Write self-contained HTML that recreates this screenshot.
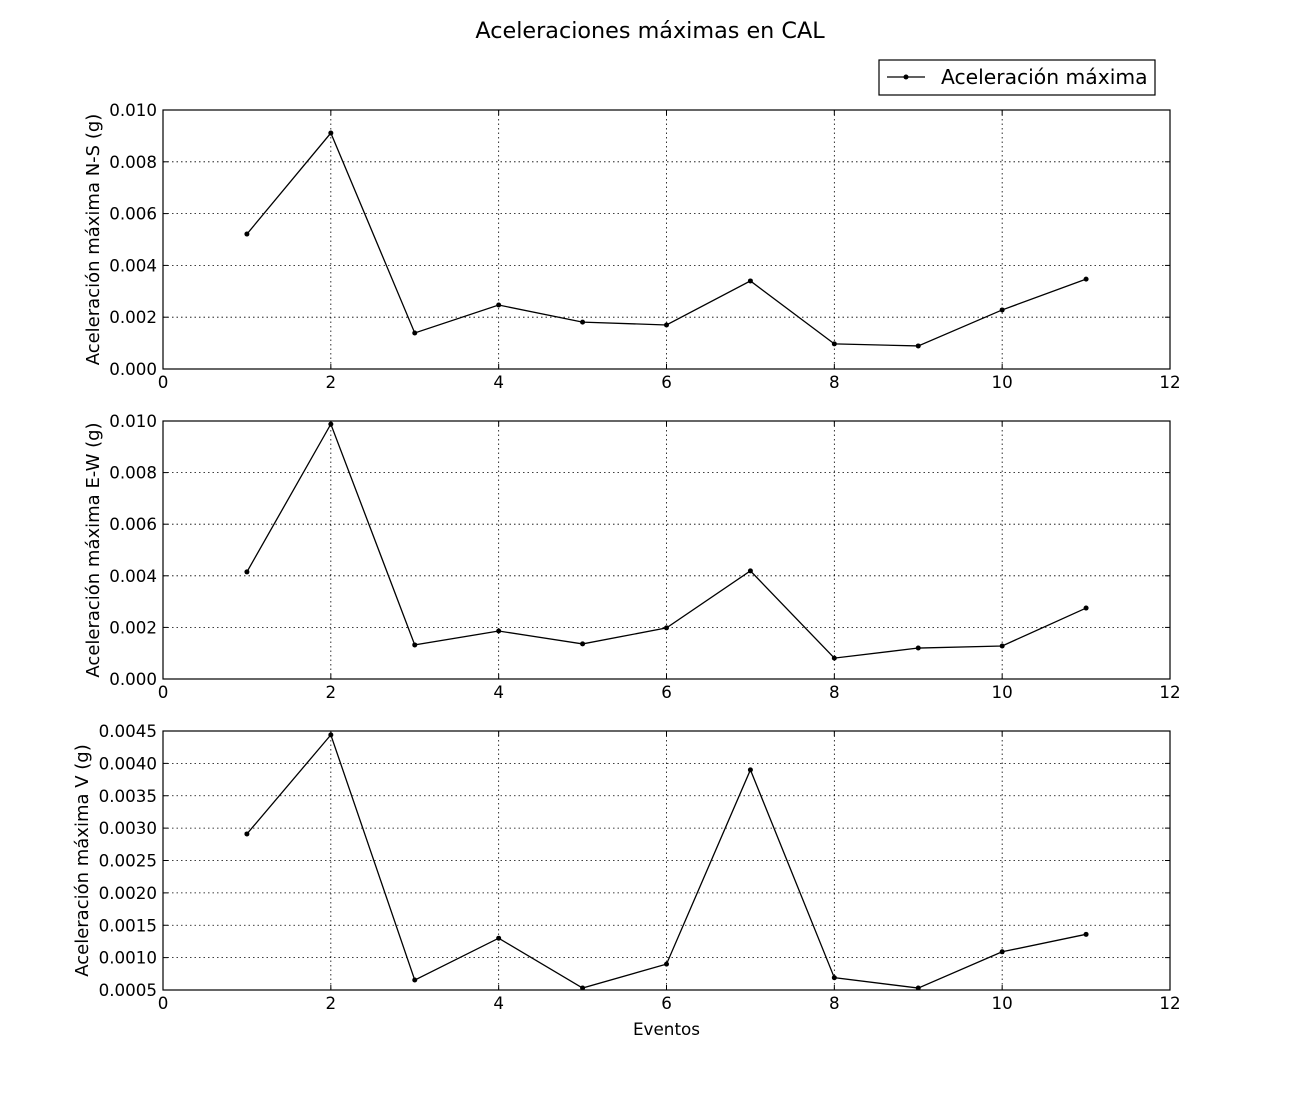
<!DOCTYPE html>
<html><head><meta charset="utf-8"><style>
body{margin:0;background:#fff}
svg{display:block;font-family:"DejaVu Sans","Liberation Sans",sans-serif}
</style></head><body>
<svg id="c" width="1300" height="1100">
<text x="650" y="38" font-size="22.3" text-anchor="middle">Aceleraciones máximas en CAL</text>
<g>
<rect x="879" y="60" width="276" height="35" fill="#fff" stroke="#000" stroke-width="1.2"/>
<line x1="887" y1="77" x2="925" y2="77" stroke="#000" stroke-width="1.2"/>
<circle cx="906" cy="77" r="2.5" fill="#000"/>
<text x="941" y="84" font-size="20.3">Aceleración máxima</text>
</g>
</svg>
<script>
const events=[1,2,3,4,5,6,7,8,9,10,11];
const nsValues=[0.00521,0.00911,0.00139,0.00247,0.00181,0.0017,0.0034,0.00097,0.00089,0.00228,0.00347];
const ewValues=[0.00415,0.00988,0.00132,0.00186,0.00136,0.00198,0.00419,0.00081,0.0012,0.00128,0.00275];
const vValues=[0.00291,0.00444,0.000654,0.0013,0.00053,0.0009,0.0039,0.00069,0.00053,0.00109,0.00136];
const xTicks=[0,2,4,6,8,10,12];
const yTicks12=["0.000","0.002","0.004","0.006","0.008","0.010"];
const yTicks3=["0.0005","0.0010","0.0015","0.0020","0.0025","0.0030","0.0035","0.0040","0.0045"];
const NS="http://www.w3.org/2000/svg";
const svg=document.getElementById('c');
function mk(t,a,p){const e=document.createElementNS(NS,t);for(const k in a)e.setAttribute(k,a[k]);(p||svg).appendChild(e);return e;}
const L=163,R=1170;
function xs(v){return L+(v-0)/12*(R-L);}
function panel(name,top,bot,ymin,ymax,yt,vals,ylabel,xlabel){
  const g=mk('g',{});
  
  
  const ys=v=>bot-(v-ymin)/(ymax-ymin)*(bot-top);
  xTicks.forEach(t=>{const x=xs(t);
    if(t>0&&t<12)mk('line',{x1:x,y1:top,x2:x,y2:bot,stroke:'#000','stroke-dasharray':'1.5,3','stroke-width':0.8},g);
    mk('line',{x1:x,y1:bot,x2:x,y2:bot-5,stroke:'#000'},g);mk('line',{x1:x,y1:top,x2:x,y2:top+5,stroke:'#000'},g);
    const tx=mk('text',{x:x,y:bot+19,'font-size':16.7,'text-anchor':'middle'},g);tx.textContent=t;
    
    
  });
  yt.forEach(s=>{const y=ys(parseFloat(s));
    if(y>top+0.5&&y<bot-0.5)mk('line',{x1:L,y1:y,x2:R,y2:y,stroke:'#000','stroke-dasharray':'1.5,3','stroke-width':0.8},g);
    mk('line',{x1:L,y1:y,x2:L+5,y2:y,stroke:'#000'},g);mk('line',{x1:R,y1:y,x2:R-5,y2:y,stroke:'#000'},g);
    const tx=mk('text',{x:L-6,y:y+6,'font-size':16.7,'text-anchor':'end'},g);tx.textContent=s;
    
    
  });
  mk('rect',{x:L,y:top,width:R-L,height:bot-top,fill:'none',stroke:'#000','stroke-width':1.2},g);
  const pts=events.map((e,i)=>xs(e)+','+ys(vals[i])).join(' ');
  const pl=mk('polyline',{points:pts,fill:'none',stroke:'#000','stroke-width':1.3},g);
  
  
  events.forEach((e,i)=>{const c=mk('circle',{cx:xs(e),cy:ys(vals[i]),r:2.5,fill:'#000'},g);
    
    });
  const lx=ylabel[1],cy=(top+bot)/2;
  const yl=mk('text',{x:lx,y:cy,'font-size':18,'text-anchor':'middle',transform:`rotate(-90 ${lx} ${cy})`},g);yl.textContent=ylabel[0];
  
  
  if(xlabel){const xl=mk('text',{x:(L+R)/2,y:bot+45,'font-size':16.8,'text-anchor':'middle'},g);xl.textContent=xlabel;
    
    }
}
panel('panel-ns',110,369,0,0.010,yTicks12,nsValues,['Aceleración máxima N-S (g)',99]);
panel('panel-ew',421,679,0,0.010,yTicks12,ewValues,['Aceleración máxima E-W (g)',99]);
panel('panel-v',731,990,0.0005,0.0045,yTicks3,vValues,['Aceleración máxima V (g)',88],'Eventos');
</script>
</body></html>
